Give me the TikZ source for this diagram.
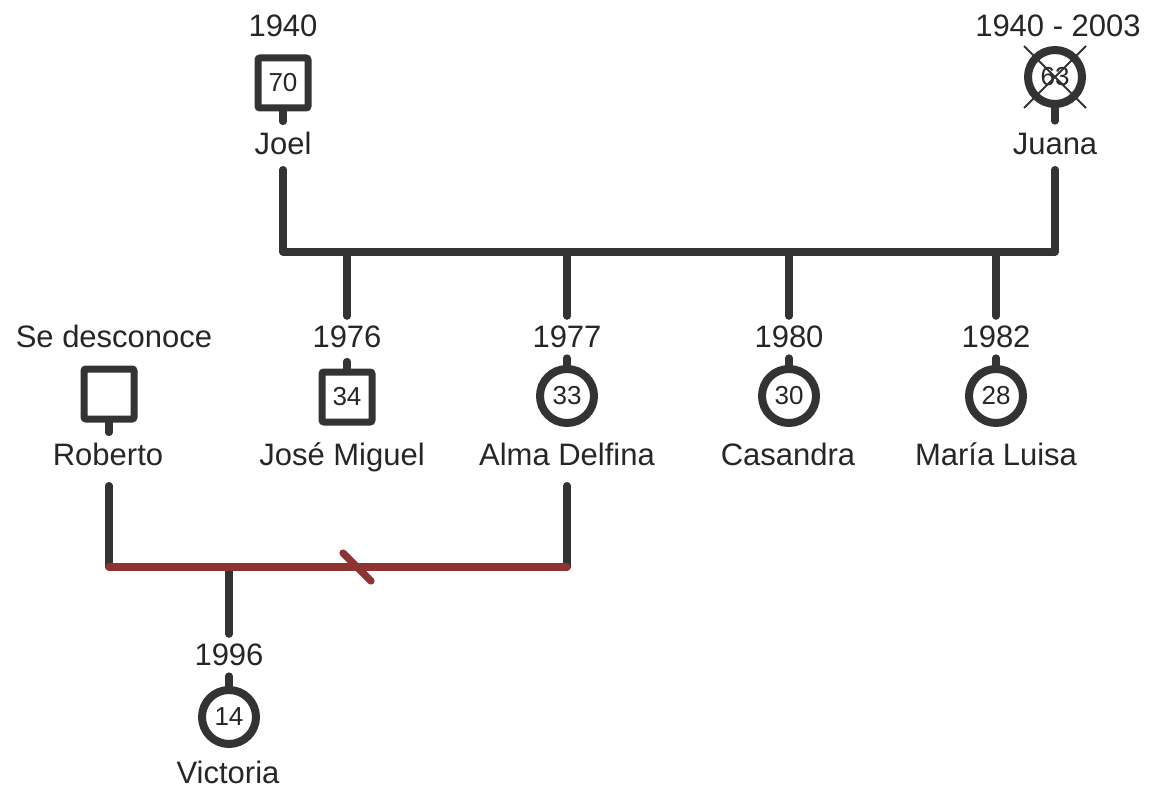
\documentclass[tikz,border=0pt]{standalone}
\usepackage{fontspec}
\setmainfont{Liberation Sans}
\usepackage{tikz}
\definecolor{ink}{HTML}{333333}
\definecolor{rust}{HTML}{8E3232}

\begin{document}
\begin{tikzpicture}[x=0.5pt,y=-0.5pt,
 txt/.style={inner sep=0pt,anchor=base,text height=0.72em,text depth=0.21em,text=black!85,font=\fontsize{15.5}{18}\selectfont},
 male/.style={shape=rectangle,draw=ink,line width=3.5pt,rounded corners=1pt,minimum size=25pt,inner sep=0pt,text=black!85,font=\fontsize{13}{15}\selectfont},
 female/.style={shape=circle,draw=ink,line width=4pt,minimum size=27pt,inner sep=0pt,text=black!85,font=\fontsize{13}{15}\selectfont},
 link/.style={draw=ink,line width=3.6pt,line cap=round,line join=round},
 split/.style={draw=rust,line width=3.6pt,line cap=round}]
\useasboundingbox (0,0) rectangle (1162,791);
\node(joelyr)[txt] at (283,37){1940};
\node(joel)[male] at (283,83){70};
\node(joelnm)[txt] at (283,155){Joel};
\node(juanayr)[txt] at (1058,37){1940 - 2003};
\node(juana)[female] at (1055,77){63};
\node(juananm)[txt] at (1055,155){Juana};
\coordinate(bar) at (0,252);
\node(jmyr)[txt] at (347,347){1976};
\node(jm)[male] at (347,397){34};
\node(jmnm)[txt] at (342,465){José Miguel};
\node(almayr)[txt] at (567,347){1977};
\node(alma)[female] at (567,396){33};
\node(almanm)[txt] at (567,465){Alma Delfina};
\node(casyr)[txt] at (789,347){1980};
\node(cas)[female] at (789,396){30};
\node(casnm)[txt] at (788,465){Casandra};
\node(maryr)[txt] at (996,347){1982};
\node(mar)[female] at (996,396){28};
\node(marnm)[txt] at (996,465){María Luisa};
\node(robyr)[txt] at (114,348){Se desconoce};
\node(rob)[male] at (109,394){};
\node(robnm)[txt] at (108,465){Roberto};
\coordinate(rbar) at (0,567);
\coordinate(cut) at (357,567);
\node(vicyr)[txt] at (229,665){1996};
\node(vic)[female] at (229,717){14};
\node(vicnm)[txt] at (228,783){Victoria};
\draw[link] (joel.south) -- ++(0,10);
\draw[link] (juana.south) -- ++(0,13);
\draw[ink,line width=1pt] (juana.center) +(-31,-31) -- +(31,31) (juana.center) +(31,-31) -- +(-31,31);
\draw[link,shorten <=5pt,shorten >=5pt] (joelnm.south) -- (joelnm.south |- bar) -- (juananm.south |- bar) -- (juananm.south);
\foreach \c in {jm,alma,cas,mar}{
 \draw[link,shorten >=8pt] (\c yr.north |- bar) -- (\c yr.north);
 \draw[link] (\c.north) -- ++(0,-7);
}
\draw[link] (rob.south) -- ++(0,10);
\draw[link,shorten <=8pt] (rob.south |- robnm.south) -- (rob.south |- rbar);
\draw[link,shorten <=8pt] (almanm.south) -- (almanm.south |- rbar);
\draw[link,shorten >=8pt] (vicyr.north |- rbar) -- (vicyr.north);
\draw[link] (vic.north) -- ++(0,-10);
\draw[split] (rob.south |- rbar) -- (almanm.south |- rbar);
\draw[split] (cut) +(-14,-14) -- +(14,14);
\end{tikzpicture}
\end{document}
